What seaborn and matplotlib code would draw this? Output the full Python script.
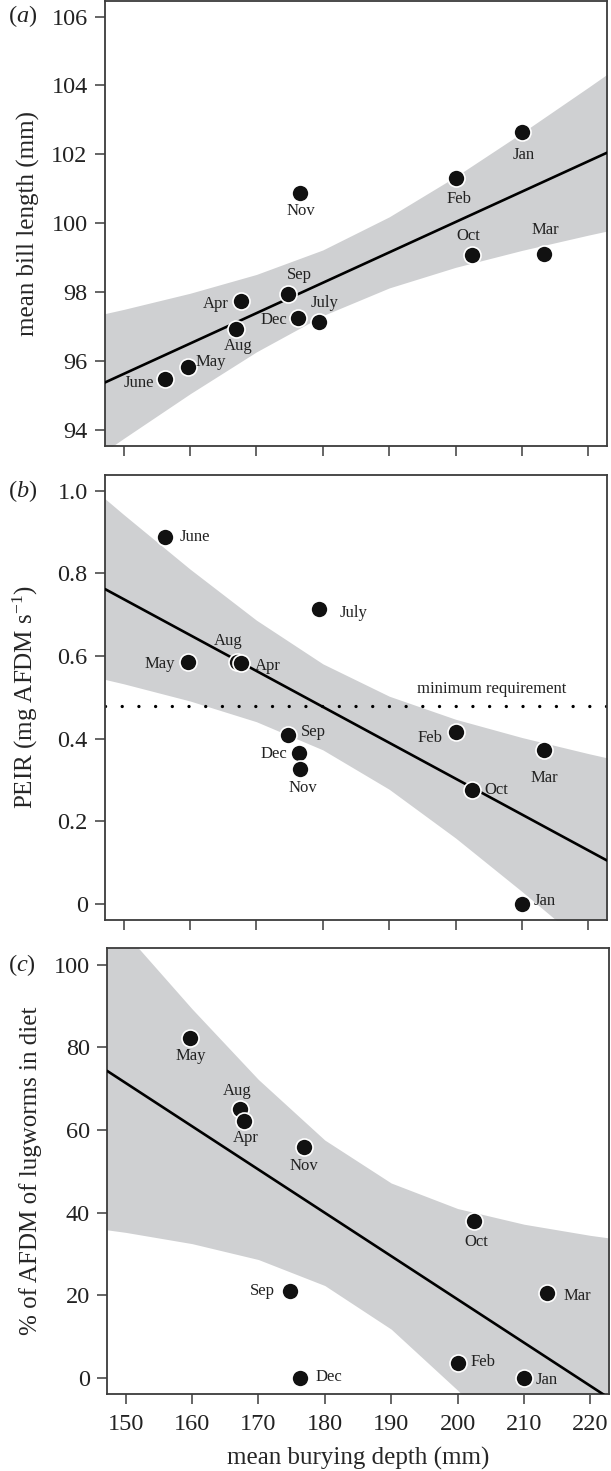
import numpy as np
import matplotlib
matplotlib.use('Agg')
import matplotlib.pyplot as plt
import seaborn as sns

# (a) mean bill length vs burying depth
months_a = ['June', 'May', 'Aug', 'Apr', 'Sep', 'Dec', 'July', 'Nov', 'Feb', 'Jan', 'Oct', 'Mar']
depth_a = [156.2, 159.7, 167.0, 167.75, 174.7, 176.2, 179.5, 176.6, 200.0, 210.0, 202.4, 213.3]
bill_a = [95.48, 95.82, 96.92, 97.74, 97.95, 97.26, 97.15, 100.88, 101.32, 102.64, 99.08, 99.12]

# (b) PEIR vs burying depth
months_b = ['June', 'July', 'May', 'Aug', 'Apr', 'Sep', 'Dec', 'Nov', 'Feb', 'Mar', 'Oct', 'Jan']
depth_b = [156.3, 179.5, 159.7, 167.1, 167.7, 174.7, 176.4, 176.6, 200.0, 213.3, 202.4, 210.0]
peir_b = [0.887, 0.7125, 0.585, 0.586, 0.582, 0.408, 0.366, 0.327, 0.415, 0.373, 0.2755, 0.0]
min_req = 0.48

# (c) % AFDM lugworms in diet vs burying depth
months_c = ['May', 'Aug', 'Apr', 'Nov', 'Oct', 'Sep', 'Mar', 'Feb', 'Dec', 'Jan']
depth_c = [159.7, 167.2, 167.8, 176.8, 202.4, 174.7, 213.4, 200.0, 176.3, 210.0]
lug_c = [82.4, 65.0, 62.3, 56.0, 38.0, 21.0, 20.6, 3.6, 0.0, 0.0]

xticks = [150, 160, 170, 180, 190, 200, 210, 220]
yticks_a = [94, 96, 98, 100, 102, 104, 106]
yticks_b = [0, 0.2, 0.4, 0.6, 0.8, 1.0]
yticklabels_b = ['0', '0.2', '0.4', '0.6', '0.8', '1.0']
yticks_c = [0, 20, 40, 60, 80, 100]

# label placement (pixel offsets from the dot, horizontal alignment)
off_a = {'June': (-26, -4, 'center'), 'May': (23, 5, 'center'), 'Aug': (2, -17, 'center'),
         'Apr': (-26, -3, 'center'), 'Sep': (12, 19, 'center'), 'Dec': (-24, -2, 'center'),
         'July': (5, 19, 'center'), 'Nov': (1, -18, 'center'), 'Feb': (3, -21, 'center'),
         'Jan': (2, -23, 'center'), 'Oct': (-3, 19, 'center'), 'Mar': (1, 24, 'center')}
off_b = {'June': (14, 0, 'left'), 'July': (20, -4, 'left'), 'May': (-13, -2, 'right'),
         'Aug': (-9, 21, 'center'), 'Apr': (14, -3, 'left'), 'Sep': (13, 3, 'left'),
         'Dec': (-12, -1, 'right'), 'Nov': (3, -19, 'center'), 'Feb': (-13, -6, 'right'),
         'Mar': (0, -28, 'center'), 'Oct': (13, 0, 'left'), 'Jan': (12, 3, 'left')}
off_c = {'May': (1, -18, 'center'), 'Aug': (-3, 18, 'center'), 'Apr': (2, -17, 'center'),
         'Nov': (0, -19, 'center'), 'Oct': (3, -21, 'center'), 'Sep': (-15, 0, 'right'),
         'Mar': (17, -3, 'left'), 'Feb': (13, 1, 'left'), 'Dec': (15, 1, 'left'),
         'Jan': (12, -2, 'left')}

# two-sided 95% t quantiles by residual df
T975 = {8: 2.306, 10: 2.228}

sns.set_theme(style='ticks')
plt.rcParams['font.family'] = ['Liberation Serif', 'DejaVu Serif']
plt.rcParams['mathtext.fontset'] = 'custom'
plt.rcParams['mathtext.rm'] = 'Liberation Serif'
plt.rcParams['mathtext.it'] = 'Liberation Serif:italic'

BAND = '#cfd0d2'
EDGE = '#3c3c3c'
XLIM = (147.2, 222.8)

fig = plt.figure(figsize=(6.11, 14.71), dpi=100)
left, width = 105 / 611, 502 / 611
ax_a = fig.add_axes([left, 1 - 446 / 1471, width, 445 / 1471])
ax_b = fig.add_axes([left, 1 - 920 / 1471, width, 445 / 1471])
ax_c = fig.add_axes([left + 2 / 611, 1 - 1394 / 1471, width, 446 / 1471])


def panel(ax, x, y, months, offsets, ylim):
    xs = np.asarray(x, float)
    ys = np.asarray(y, float)
    n = len(xs)
    slope, icpt = np.polyfit(xs, ys, 1)
    resid = ys - (icpt + slope * xs)
    s = np.sqrt((resid ** 2).sum() / (n - 2))
    grid = np.arange(140, 231, 10)
    se = s * np.sqrt(1 / n + (grid - xs.mean()) ** 2 / ((xs - xs.mean()) ** 2).sum())
    fit = icpt + slope * grid
    t = T975[n - 2]
    ax.set_xlim(*XLIM)
    ax.set_ylim(*ylim)
    ax.fill_between(grid, fit - t * se, fit + t * se, color=BAND, lw=0, zorder=1)
    sns.regplot(x=xs, y=ys, ax=ax, scatter=False, ci=None, truncate=False,
                color='black', line_kws=dict(lw=1.9, zorder=3))
    sns.scatterplot(x=xs, y=ys, ax=ax, s=150, color='#111111', edgecolor='white',
                    linewidth=1.2, zorder=4)
    for m, xv, yv in zip(months, xs, ys):
        dx, dy, ha = offsets[m]
        ax.annotate(m, (xv, yv), xytext=(dx, dy), textcoords='offset pixels',
                    ha=ha, va='center', fontsize=12, color='#222222', zorder=5)
    ax.set_xlim(*XLIM)
    ax.set_ylim(*ylim)
    ax.set_xticks(xticks)
    for sp in ax.spines.values():
        sp.set_visible(True)
        sp.set_color(EDGE)
        sp.set_linewidth(1.3)
    ax.tick_params(axis='both', direction='out', length=7.5, width=1.1, color=EDGE,
                   labelsize=17.5, labelcolor='#222222')
    ax.tick_params(axis='y', pad=5)
    ax.tick_params(axis='x', pad=7)


panel(ax_a, depth_a, bill_a, months_a, off_a, (93.54, 106.45))
ax_a.set_yticks(yticks_a)
ax_a.set_xticklabels([])
ax_a.set_ylabel('mean bill length (mm)', fontsize=18)

panel(ax_b, depth_b, peir_b, months_b, off_b, (-0.039, 1.038))
ax_b.axhline(min_req, color='black', lw=2.4, dashes=(0.01, 5), dash_capstyle='round', zorder=2)
ax_b.annotate('minimum requirement', (205.5, 0.52), ha='center', va='center', fontsize=12,
              color='#222222')
ax_b.set_yticks(yticks_b)
ax_b.set_yticklabels(yticklabels_b)
ax_b.set_xticklabels([])
ax_b.set_ylabel('PEIR (mg AFDM s$^{-1}$)', fontsize=18)

panel(ax_c, depth_c, lug_c, months_c, off_c, (-3.94, 104.1))
ax_c.set_yticks(yticks_c)
ax_c.set_xticklabels([str(v) for v in xticks])
ax_c.set_ylabel('% of AFDM of lugworms in diet', fontsize=18)
ax_c.set_xlabel('mean burying depth (mm)', fontsize=18)
ax_c.xaxis.set_label_coords(0.5, -0.118)

for ax in (ax_a, ax_b, ax_c):
    ax.yaxis.set_label_coords(-0.13, 0.5)

for ax, lab, yv in ((ax_a, 'a', 106), (ax_b, 'b', 1.0), (ax_c, 'c', 100)):
    ax.annotate('($\\mathit{%s}$)' % lab, (8 / 611, yv), xycoords=('figure fraction', 'data'),
                ha='left', va='center', fontsize=17.5, color='#222222', annotation_clip=False)

fig.savefig('out.png', dpi=100)
